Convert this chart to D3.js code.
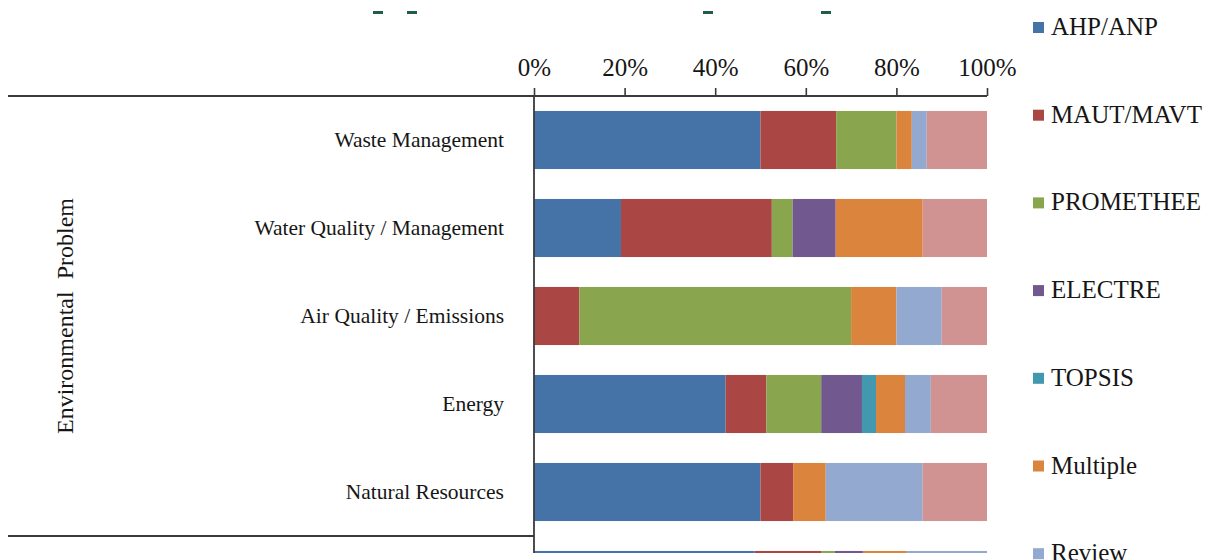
<!DOCTYPE html>
<html>
<head>
<meta charset="utf-8">
<script src="https://cdn.jsdelivr.net/npm/d3@7"></script>
<style>
  body { margin: 0; background: #fff; }
  text { font-family: "Liberation Serif", "Times New Roman", serif; fill: #161616; }
</style>
</head>
<body>
<svg id="canvas"></svg>
<script>
// categories (the last one is cut off at the bottom of the picture)
const categories = ['Waste Management', 'Water Quality / Management', 'Air Quality / Emissions', 'Energy', 'Natural Resources', 'Total'];
const methods = ['AHP/ANP', 'MAUT/MAVT', 'PROMETHEE', 'ELECTRE', 'TOPSIS', 'Multiple', 'Review', 'Other'];
const colors = ['#4572A7', '#AA4643', '#89A54E', '#71588F', '#4198AF', '#DB843D', '#93A9CF', '#D19392'];

// share of papers (%) per method, one value per category
const ahp       = [50.0, 19.2,  0.0, 42.3, 50.0, 48.7];
const maut      = [16.7, 33.3, 10.0,  9.0,  7.2, 14.8];
const promethee = [13.3,  4.6, 60.0, 12.1,  0.0,  2.9];
const electre   = [ 0.0,  9.5,  0.0,  9.0,  0.0,  6.2];
const topsis    = [ 0.0,  0.0,  0.0,  3.1,  0.0,  0.0];
const multiple  = [ 3.4, 19.2, 10.0,  6.4,  7.2,  9.7];
const review    = [ 3.3,  0.0, 10.0,  5.7, 21.4, 17.7];
const other     = [13.3, 14.2, 10.0, 12.4, 14.2,  0.0];

const tickValues = [0, 20, 40, 60, 80, 100];

let width = 1216;
let height = 560;
let cropBottom = 553;

let canvas = d3.select('#canvas');
canvas.attr('width', width).attr('height', height);

const series = [ahp, maut, promethee, electre, topsis, multiple, review, other];
const rows = categories.map((c, i) => {
    let row = { category: c };
    methods.forEach((m, j) => row[m] = series[j][i]);
    return row;
});

const xScale = d3.scaleLinear()
    .domain([0, 100])
    .range([534, 987]);

const yScale = d3.scaleBand()
    .domain(categories)
    .range([96, 624])
    .paddingInner(0.34)
    .paddingOuter(0.17);

const colorScale = d3.scaleOrdinal().domain(methods).range(colors);

const stacked = d3.stack().keys(methods)(rows);

// the picture is cropped just below the plot
canvas.append('defs').append('clipPath').attr('id', 'crop')
    .append('rect').attr('x', 0).attr('y', 0).attr('width', width).attr('height', cropBottom);

const plot = canvas.append('g').attr('clip-path', 'url(#crop)');

plot.selectAll('g.layer')
    .data(stacked)
    .enter()
    .append('g')
    .attr('class', 'layer')
    .attr('fill', d => colorScale(d.key))
    .selectAll('rect')
    .data(d => d)
    .enter()
    .append('rect')
    .attr('x', d => xScale(d[0]))
    .attr('width', d => xScale(d[1]) - xScale(d[0]))
    .attr('y', d => yScale(d.data.category))
    .attr('height', yScale.bandwidth());

// top axis
const xAxis = d3.axisTop(xScale)
    .tickValues(tickValues)
    .tickFormat(d => d + '%')
    .tickSize(8)
    .tickPadding(12);

const axisY = yScale.range()[0];
const axisG = canvas.append('g')
    .attr('transform', 'translate(0,' + axisY + ')')
    .call(xAxis);
axisG.select('.domain').remove();
axisG.selectAll('.tick line').attr('stroke', '#3a3a3a').attr('stroke-width', 1.6);
axisG.selectAll('.tick text')
    .attr('fill', '#161616')
    .style('font-size', '25px')
    .style('font-family', '"Liberation Serif", serif');

// group separator lines (multi-level category axis)
const groupEnd = yScale.range()[0] + 5 * yScale.step();
plot.append('line')
    .attr('x1', 8).attr('x2', xScale(100))
    .attr('y1', axisY).attr('y2', axisY)
    .attr('stroke', '#3a3a3a').attr('stroke-width', 1.8);
plot.append('line')
    .attr('x1', 8).attr('x2', xScale(0))
    .attr('y1', groupEnd).attr('y2', groupEnd)
    .attr('stroke', '#3a3a3a').attr('stroke-width', 1.8);
plot.append('line')
    .attr('x1', xScale(0)).attr('x2', xScale(0))
    .attr('y1', axisY).attr('y2', height)
    .attr('stroke', '#3a3a3a').attr('stroke-width', 1.8);

// category labels (only those inside the cropped picture)
plot.selectAll('text.cat')
    .data(categories.filter(d => yScale(d) + yScale.bandwidth() / 2 < cropBottom))
    .enter()
    .append('text')
    .attr('class', 'cat')
    .attr('x', xScale(0) - 30)
    .attr('y', d => yScale(d) + yScale.bandwidth() / 2)
    .attr('dy', '0.32em')
    .attr('text-anchor', 'end')
    .style('font-size', '21.5px')
    .text(d => d);

// y axis title
canvas.append('text')
    .attr('transform', 'translate(73,316) rotate(-90)')
    .attr('text-anchor', 'middle')
    .style('font-size', '24px')
    .style('white-space', 'pre')
    .text('Environmental  Problem');

// legend (items below the crop are not shown)
const legendStep = 87.7;
const legend = canvas.append('g')
    .selectAll('g')
    .data(methods.filter((d, i) => 22 + i * legendStep < height))
    .enter()
    .append('g')
    .attr('transform', (d, i) => 'translate(1033,' + (22 + i * legendStep) + ')');

legend.append('rect')
    .attr('width', 11)
    .attr('height', 11)
    .attr('fill', d => colorScale(d));

legend.append('text')
    .attr('x', 18)
    .attr('y', 13)
    .style('font-size', '25px')
    .text(d => d);

// remnants of a cropped heading above the chart
const topMarks = [373, 407, 703, 821];
canvas.selectAll('rect.remnant')
    .data(topMarks)
    .enter()
    .append('rect')
    .attr('class', 'remnant')
    .attr('x', d => d)
    .attr('y', 11)
    .attr('width', 10)
    .attr('height', 3)
    .attr('fill', '#1f5e45');
</script>
</body>
</html>
